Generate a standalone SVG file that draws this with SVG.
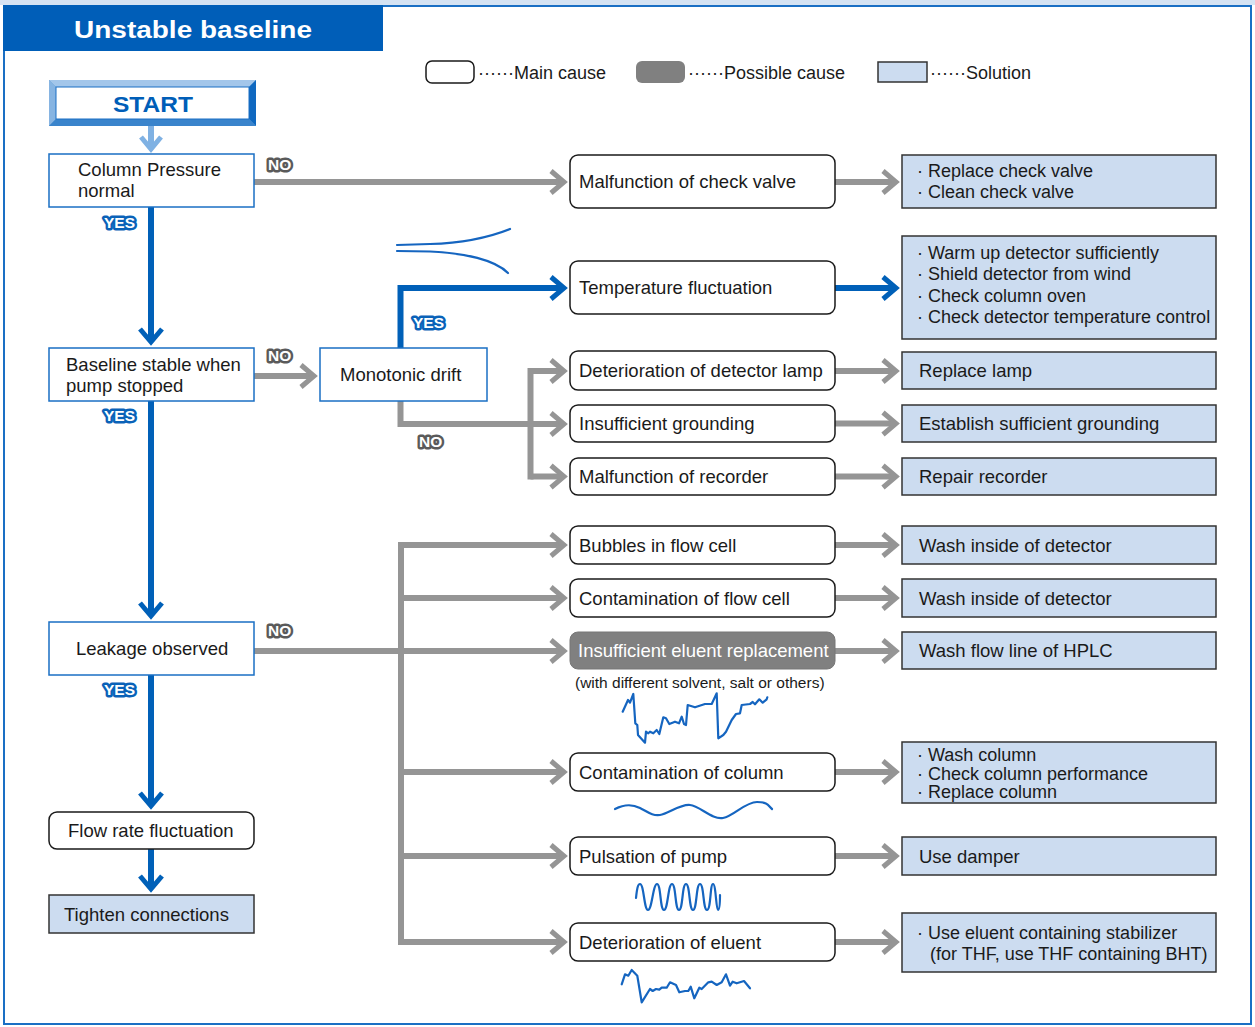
<svg xmlns="http://www.w3.org/2000/svg" width="1255" height="1027" viewBox="0 0 1255 1027">
<style>
text{font-family:"Liberation Sans",Arial,sans-serif;font-size:18.5px;fill:#1a1a1a}
.sm{font-size:18px}
.note{font-size:15.5px}
.dec{fill:#fff;stroke:#1a6fc4;stroke-width:1.5}
.main{fill:#fff;stroke:#1a1a1a;stroke-width:1.5}
.poss{fill:#808080;stroke:#777;stroke-width:1}
.sol{fill:#ccdcf0;stroke:#333;stroke-width:1.5}
.badge{font-size:15.5px;font-weight:bold;fill:#fff;stroke-width:5;stroke-linejoin:round;paint-order:stroke}
.no{stroke:#5a5a5a}
.yes{stroke:#0a62b8}
.g{stroke:#959595;stroke-width:6;fill:none}
.b{stroke:#0060b8;stroke-width:6;fill:none}
.wave{stroke:#1565c0;stroke-width:2.2;fill:none;stroke-linejoin:round;stroke-linecap:round}
</style>
<defs>
<marker id="mg" markerUnits="userSpaceOnUse" markerWidth="40" markerHeight="40" refX="0" refY="0" orient="auto" style="overflow:visible"><path d="M-12,-11 L1,0 L-12,11" fill="none" stroke="#959595" stroke-width="5"/></marker>
<marker id="mb" markerUnits="userSpaceOnUse" markerWidth="40" markerHeight="40" refX="0" refY="0" orient="auto" style="overflow:visible"><path d="M-12,-11 L1,0 L-12,11" fill="none" stroke="#0060b8" stroke-width="5"/></marker>
<marker id="ml" markerUnits="userSpaceOnUse" markerWidth="40" markerHeight="40" refX="0" refY="0" orient="auto" style="overflow:visible"><path d="M-11,-10 L1,0 L-11,10" fill="none" stroke="#7fb1e3" stroke-width="5"/></marker>
</defs>
<rect x="0" y="0" width="1255" height="1027" fill="#fff"/>
<rect x="0" y="0" width="1255" height="5" fill="#d5e3f3"/>
<rect x="4" y="6" width="1247" height="1018" fill="none" stroke="#1a6fc4" stroke-width="2"/>
<g id="header">
<rect x="3" y="5" width="380" height="46" fill="#005eb8"/>
<text x="74" y="38" style="font-size:23px;font-weight:bold;fill:#fff" textLength="238" lengthAdjust="spacingAndGlyphs">Unstable baseline</text>
</g>
<g id="legend">
<rect x="426" y="61" width="48" height="22" rx="6" class="main"/>
<text x="478" y="79" class="sm">······Main cause</text>
<rect x="636" y="61" width="49" height="22" rx="6" fill="#808080"/>
<text x="688" y="79" class="sm">······Possible cause</text>
<rect x="878" y="62" width="49" height="20" class="sol"/>
<text x="930" y="79" class="sm">······Solution</text>
</g>
<g id="connectors">
<path d="M151,126 V148" stroke="#7fb1e3" stroke-width="6" fill="none" marker-end="url(#ml)"/>
<path class="b" d="M151,207 V341" marker-end="url(#mb)"/>
<path class="b" d="M151,401 V615" marker-end="url(#mb)"/>
<path class="b" d="M151,675 V805" marker-end="url(#mb)"/>
<path class="b" d="M151,849 V888" marker-end="url(#mb)"/>
<path class="b" d="M400.5,348 V288 H563" stroke-width="7" marker-end="url(#mb)"/>
<path class="b" d="M835,288 H895" marker-end="url(#mb)"/>
<path class="g" d="M254,182 H563" marker-end="url(#mg)"/>
<path class="g" d="M835,182 H895" marker-end="url(#mg)"/>
<path class="g" d="M254,376 H313" marker-end="url(#mg)"/>
<path class="g" d="M400.5,401 V424 H563" marker-end="url(#mg)"/>
<path class="g" d="M530.5,368 V479.5"/>
<path class="g" d="M530.5,371 H563" marker-end="url(#mg)"/>
<path class="g" d="M530.5,476.5 H563" marker-end="url(#mg)"/>
<path class="g" d="M835,371 H895" marker-end="url(#mg)"/>
<path class="g" d="M835,423.5 H895" marker-end="url(#mg)"/>
<path class="g" d="M835,476.5 H895" marker-end="url(#mg)"/>
<path class="g" d="M254,651 H563" marker-end="url(#mg)"/>
<path class="g" d="M401,542 V945"/>
<path class="g" d="M401,545 H563" marker-end="url(#mg)"/>
<path class="g" d="M401,598 H563" marker-end="url(#mg)"/>
<path class="g" d="M401,772 H563" marker-end="url(#mg)"/>
<path class="g" d="M401,856 H563" marker-end="url(#mg)"/>
<path class="g" d="M401,942 H563" marker-end="url(#mg)"/>
<path class="g" d="M835,545 H895" marker-end="url(#mg)"/>
<path class="g" d="M835,598 H895" marker-end="url(#mg)"/>
<path class="g" d="M835,651 H895" marker-end="url(#mg)"/>
<path class="g" d="M835,772 H895" marker-end="url(#mg)"/>
<path class="g" d="M835,856 H895" marker-end="url(#mg)"/>
<path class="g" d="M835,942 H895" marker-end="url(#mg)"/>
</g>
<g id="labels">
<text x="268" y="170" class="badge no">NO</text>
<text x="268" y="361" class="badge no">NO</text>
<text x="419" y="447" class="badge no">NO</text>
<text x="268" y="636" class="badge no">NO</text>
<text x="104" y="228" class="badge yes">YES</text>
<text x="104" y="421" class="badge yes">YES</text>
<text x="104" y="695" class="badge yes">YES</text>
<text x="413" y="328" class="badge yes">YES</text>
</g>
<g id="start">
<rect x="49" y="80" width="207" height="46" fill="#5b9bd5"/>
<path d="M49,80 H256 L249,87 H56 Z" fill="#a3c6ea"/>
<path d="M49,80 L56,87 V119 L49,126 Z" fill="#86b4e2"/>
<path d="M256,80 L249,87 V119 L256,126 Z" fill="#0f68c0"/>
<path d="M49,126 L56,119 H249 L256,126 Z" fill="#3a84cc"/>
<rect x="56" y="87" width="193" height="32" fill="#fff" stroke="#1a6fc4" stroke-width="1"/>
<text x="113" y="112" style="font-size:22px;font-weight:bold;fill:#005eb8" textLength="80" lengthAdjust="spacingAndGlyphs">START</text>
</g>
<g id="n-pressure"><rect x="49" y="154" width="205" height="53" class="dec"/><text x="78" y="176">Column Pressure</text><text x="78" y="197">normal</text></g>
<g id="n-pump"><rect x="49" y="348" width="205" height="53" class="dec"/><text x="66" y="370.5">Baseline stable when</text><text x="66" y="391.5">pump stopped</text></g>
<g id="n-mono"><rect x="320" y="348" width="167" height="53" class="dec"/><text x="340" y="381">Monotonic drift</text></g>
<g id="n-leak"><rect x="49" y="622" width="205" height="53" class="dec"/><text x="76" y="655">Leakage observed</text></g>
<g id="n-flow"><rect x="49" y="812" width="205" height="37" rx="8" class="main"/><text x="68" y="837">Flow rate fluctuation</text></g>
<g id="n-tighten"><rect x="49" y="895" width="205" height="38" class="sol"/><text x="64" y="920.5">Tighten connections</text></g>

<g id="c-checkvalve"><rect x="570" y="155" width="265" height="53" rx="8" class="main"/><text x="579" y="188">Malfunction of check valve</text></g>
<g id="c-temp"><rect x="570" y="261" width="265" height="53" rx="8" class="main"/><text x="579" y="294">Temperature fluctuation</text></g>
<g id="c-lamp"><rect x="570" y="351" width="265" height="39" rx="8" class="main"/><text x="579" y="377">Deterioration of detector lamp</text></g>
<g id="c-ground"><rect x="570" y="405" width="265" height="37" rx="8" class="main"/><text x="579" y="430">Insufficient grounding</text></g>
<g id="c-recorder"><rect x="570" y="458" width="265" height="37" rx="8" class="main"/><text x="579" y="483">Malfunction of recorder</text></g>
<g id="c-bubbles"><rect x="570" y="526" width="265" height="38" rx="8" class="main"/><text x="579" y="551.5">Bubbles in flow cell</text></g>
<g id="c-cell"><rect x="570" y="579" width="265" height="38" rx="8" class="main"/><text x="579" y="604.5">Contamination of flow cell</text></g>
<g id="c-eluentrep"><rect x="570" y="632" width="265" height="37" rx="8" class="poss"/><text x="578" y="657" style="fill:#fff">Insufficient eluent replacement</text>
<text x="575" y="688" class="note">(with different solvent, salt or others)</text>
<polyline class="wave" points="622.7,711.7 628,700 630,702.7 633.3,694 635.3,723.3 637.3,725 638,735 645,742.7 646,731.7 648.3,733.3 650,731.7 653.3,733.3 656.7,730 659.3,734 663.3,717.3 666,718.3 669.3,724 675,721.7 679,723.3 681.7,716.7 684,724 686,725 687.7,705 695,707.3 705,704 711.7,704 716.7,693.3 718.3,738.3 723.3,735 726,731.7 731.7,720 736,714 740,713.3 741.7,705 750,704 752.7,702 755,704.3 759.3,699.3 762.7,702.7 766.7,699.3 767.3,697.3"/>
</g>
<g id="c-column"><rect x="570" y="753" width="265" height="38" rx="8" class="main"/><text x="579" y="778.5">Contamination of column</text>
<path class="wave" d="M615,809 C625,804 632,804 640,808 S652,816 660,815 S680,804 690,805 S712,820 723,818 S745,802 757,802 S768,806 772,809"/>
</g>
<g id="c-pump"><rect x="570" y="837" width="265" height="38" rx="8" class="main"/><text x="579" y="862.5">Pulsation of pump</text>
<path class="wave" d="M636,898 C637,888 638,884 640,884 C644,884 644,910 648,910 C652,910 653,884 657,884 C661,884 660,910 664,910 C668,910 668,884 672,884 C676,884 675,910 679,910 C683,910 682,884 686,884 C690,884 689,910 693,910 C697,910 696,884 700,884 C704,884 703,910 707,910 C711,910 710,884 713,884 C716,884 716,910 718,910 C720,910 720,900 720,895"/>
</g>
<g id="c-eluent"><rect x="570" y="923" width="265" height="38" rx="8" class="main"/><text x="579" y="948.5">Deterioration of eluent</text>
<polyline class="wave" points="621.7,984.3 625,974.3 628.3,975.7 631.7,970 637.3,975.7 641.7,1002.3 650,989 652.7,991 656,989 659.3,989.7 661.7,987.7 666.7,987.7 670,982.3 676,985 679.3,992.3 685,991 688.3,991 690.7,986.7 694.3,998.3 699.3,987.7 701.7,989 708.3,982.3 711.7,981.7 716.7,985 721.7,982.3 726,974.3 730,985.7 732.7,981.7 736.7,983.3 744,981 750,988.3"/>
</g>
<g id="deco-temp">
<path class="wave" d="M397,245 L430,244 C465,243 490,237 510,229"/>
<path class="wave" d="M397,251 L430,251.5 C465,253 495,260 508,273"/>
</g>

<g id="s-checkvalve"><rect x="902" y="155" width="314" height="53" class="sol"/><text x="917" y="177" class="sm">· Replace check valve</text><text x="917" y="198" class="sm">· Clean check valve</text></g>
<g id="s-temp"><rect x="902" y="236" width="314" height="103" class="sol"/><text x="917" y="259" class="sm">· Warm up detector sufficiently</text><text x="917" y="280" class="sm">· Shield detector from wind</text><text x="917" y="302" class="sm">· Check column oven</text><text x="917" y="323" class="sm">· Check detector temperature control</text></g>
<g id="s-lamp"><rect x="902" y="352" width="314" height="37" class="sol"/><text x="919" y="377">Replace lamp</text></g>
<g id="s-ground"><rect x="902" y="405" width="314" height="37" class="sol"/><text x="919" y="430">Establish sufficient grounding</text></g>
<g id="s-recorder"><rect x="902" y="458" width="314" height="37" class="sol"/><text x="919" y="483">Repair recorder</text></g>
<g id="s-bubbles"><rect x="902" y="526" width="314" height="38" class="sol"/><text x="919" y="551.5">Wash inside of detector</text></g>
<g id="s-cell"><rect x="902" y="579" width="314" height="38" class="sol"/><text x="919" y="604.5">Wash inside of detector</text></g>
<g id="s-eluentrep"><rect x="902" y="632" width="314" height="37" class="sol"/><text x="919" y="657">Wash flow line of HPLC</text></g>
<g id="s-column"><rect x="902" y="742" width="314" height="61" class="sol"/><text x="917" y="761" class="sm">· Wash column</text><text x="917" y="779.5" class="sm">· Check column performance</text><text x="917" y="798" class="sm">· Replace column</text></g>
<g id="s-pump"><rect x="902" y="837" width="314" height="38" class="sol"/><text x="919" y="862.5">Use damper</text></g>
<g id="s-eluent"><rect x="902" y="913" width="314" height="59" class="sol"/><text x="917" y="939" class="sm">· Use eluent containing stabilizer</text><text x="930" y="960" class="sm">(for THF, use THF containing BHT)</text></g>
</svg>
